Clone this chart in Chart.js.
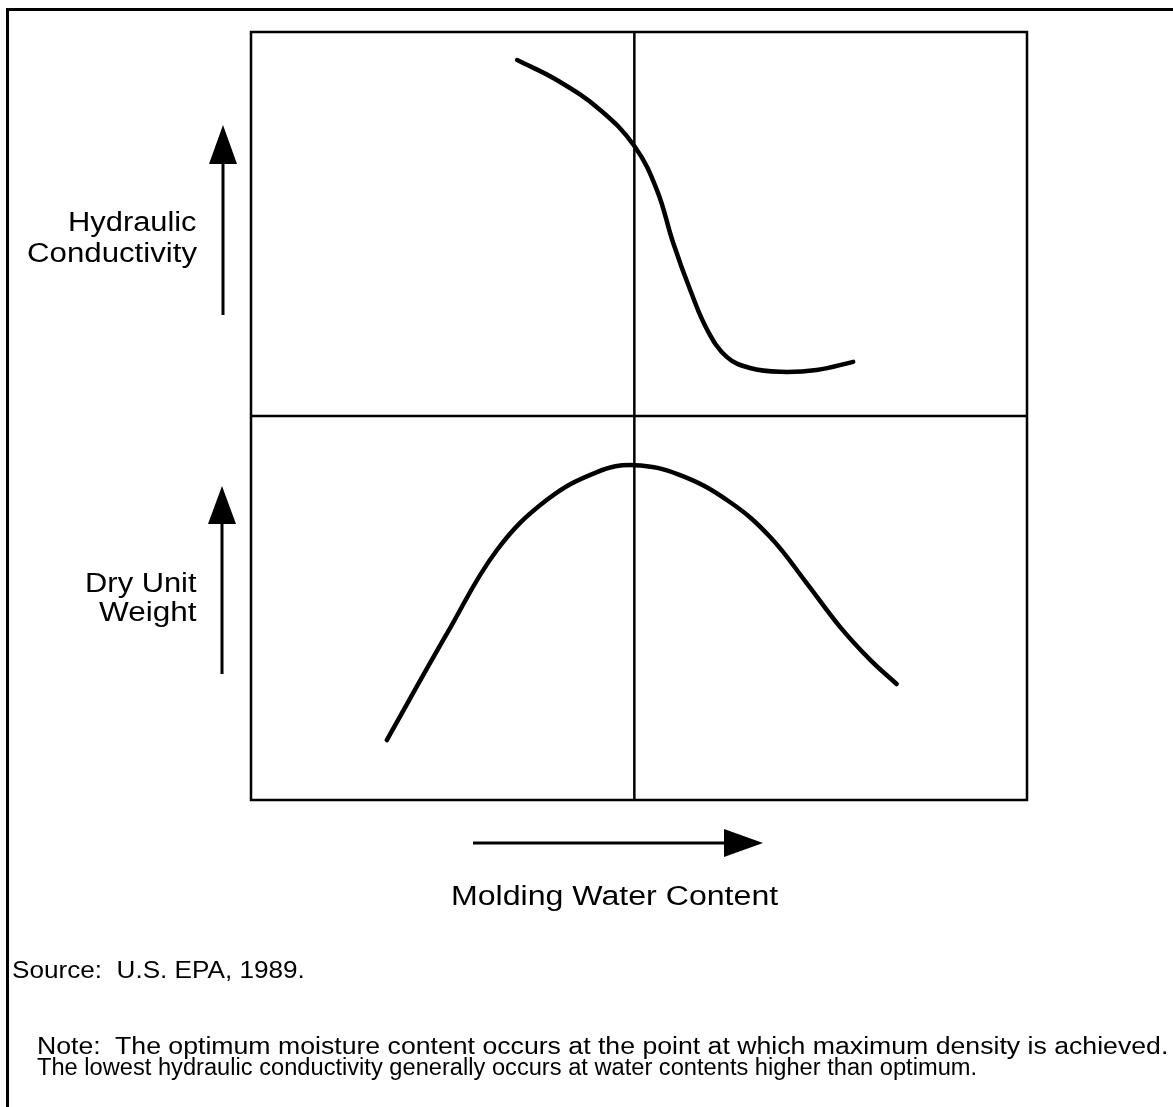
<!DOCTYPE html>
<html>
<head>
<meta charset="utf-8">
<script src="https://cdn.jsdelivr.net/npm/chart.js@4.4.1/dist/chart.umd.min.js"></script>
<style>
  html, body { margin: 0; padding: 0; background: #fff; }
  #wrap { position: relative; width: 1173px; height: 1107px; overflow: hidden; }
  #frame { position: absolute; left: 6px; top: 8px; right: -10px; bottom: -10px;
           border-top: 3px solid #000; border-left: 3px solid #000; }
  canvas { position: absolute; left: 0; top: 0; }
  .t { position: absolute; font-family: "Liberation Sans", Arial, sans-serif; color: #000;
       white-space: nowrap; line-height: 31px; font-size: 27px; }
  .r { transform-origin: right top; text-align: right; }
  .l { transform-origin: left top; }
  .small { font-size: 23px; line-height: 21px; }
</style>
</head>
<body>
<div id="wrap">
  <div id="frame"></div>
  <canvas id="chart" width="1173" height="1107"></canvas>

  <div class="t r" style="right:976px; top:207px" data-w="129">Hydraulic</div>
  <div class="t r" style="right:976px; top:238px" data-w="170">Conductivity</div>
  <div class="t r" style="right:976px; top:568px" data-w="112">Dry Unit</div>
  <div class="t r" style="right:976px; top:597px" data-w="98">Weight</div>
  <div class="t l" style="left:451px; top:881px" data-w="327">Molding Water Content</div>

  <div class="t l small" style="left:12px; top:960px" data-w="293">Source:&nbsp; U.S. EPA, 1989.</div>
  <div class="t l small" style="left:37px; top:1036px" data-w="1131">Note:&nbsp; The optimum moisture content occurs at the point at which maximum density is achieved.</div>
  <div class="t l small" style="left:37px; top:1057px" data-w="940">The lowest hydraulic conductivity generally occurs at water contents higher than optimum.</div>
</div>

<script>
// molding water content (x) vs. response
// top panel uses y 100..200, bottom panel y 0..100
const hcX  = [34.3, 39.4, 45.0, 49.4, 52.3, 54.4, 56.6, 58.8, 61.3, 64.3, 68.2, 72.9, 77.6];
const hcY  = [192.7, 187.5, 179.7, 170.3, 158.9, 145.1, 132.8, 122.4, 115.4, 112.5, 111.5, 112.0, 114.1];
const duwX = [17.5, 25.3, 31.7, 38.1, 44.6, 49.4, 55.3, 61.7, 66.9, 71.6, 75.9, 79.8, 83.2];
const duwY = [15.6, 43.5, 65.1, 78.1, 85.4, 87.2, 84.6, 77.6, 68.5, 56.5, 45.1, 36.5, 30.2];

const optimumX = 49.4;   // optimum moisture content
const panelSplit = 100;  // boundary between the two panels

const toPoints = (xs, ys) => xs.map((x, i) => ({ x, y: ys[i] }));

function arrow(ctx, x1, y1, x2, y2, headLen, headHalf) {
  const ang = Math.atan2(y2 - y1, x2 - x1);
  const bx = x2 - headLen * Math.cos(ang), by = y2 - headLen * Math.sin(ang);
  ctx.beginPath();
  ctx.moveTo(x1, y1);
  ctx.lineTo(bx, by);
  ctx.stroke();
  ctx.beginPath();
  ctx.moveTo(x2, y2);
  ctx.lineTo(bx + headHalf * Math.sin(ang), by - headHalf * Math.cos(ang));
  ctx.lineTo(bx - headHalf * Math.sin(ang), by + headHalf * Math.cos(ang));
  ctx.closePath();
  ctx.fill();
}

const framePlugin = {
  id: 'frame',
  beforeDatasetsDraw(chart) {
    const { ctx, chartArea: a, scales: { x, y } } = chart;
    ctx.save();
    ctx.strokeStyle = '#000';
    ctx.lineWidth = 2.5;
    const ox = x.getPixelForValue(optimumX);
    const my = y.getPixelForValue(panelSplit);
    ctx.beginPath();
    ctx.moveTo(ox, a.top); ctx.lineTo(ox, a.bottom);
    ctx.moveTo(a.left, my); ctx.lineTo(a.right, my);
    ctx.stroke();
    ctx.strokeRect(a.left, a.top, a.right - a.left, a.bottom - a.top);
    ctx.restore();
  },
  afterDraw(chart) {
    const { ctx } = chart;
    ctx.save();
    ctx.strokeStyle = '#000';
    ctx.fillStyle = '#000';
    ctx.lineWidth = 3;
    arrow(ctx, 223, 315, 223, 125, 39, 14);
    arrow(ctx, 222, 674, 222, 486, 38, 14);
    arrow(ctx, 473, 843, 763, 843, 39, 14);
    ctx.restore();
  }
};

new Chart(document.getElementById('chart'), {
  type: 'scatter',
  data: {
    datasets: [
      { label: 'Hydraulic Conductivity', data: toPoints(hcX, hcY) },
      { label: 'Dry Unit Weight', data: toPoints(duwX, duwY) }
    ]
  },
  options: {
    responsive: false,
    animation: false,
    layout: { padding: { left: 251, top: 32, right: 146, bottom: 307 } },
    elements: {
      point: { radius: 0, hoverRadius: 0 },
      line: { borderColor: '#000', borderWidth: 4.5, borderCapStyle: 'round', tension: 0.4 }
    },
    datasets: { scatter: { showLine: true, borderColor: '#000', backgroundColor: '#000' } },
    scales: {
      x: { type: 'linear', min: 0, max: 100, display: false },
      y: { type: 'linear', min: 0, max: 200, display: false }
    },
    plugins: { legend: { display: false }, tooltip: { enabled: false } }
  },
  plugins: [framePlugin]
});

// the scan is a little stretched sideways: fit each text line to its measured width
document.querySelectorAll('.t').forEach(el => {
  el.style.transform = `scaleX(${+el.dataset.w / el.offsetWidth})`;
});
</script>
</body>
</html>
